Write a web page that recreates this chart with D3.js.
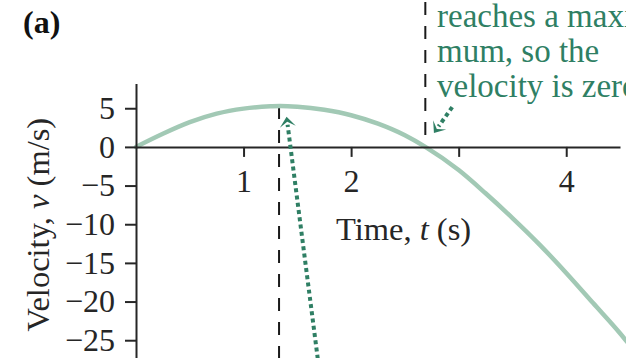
<!DOCTYPE html>
<html>
<head>
<meta charset="utf-8">
<script src="https://cdn.jsdelivr.net/npm/d3@7"></script>
<style>
  html, body { margin: 0; padding: 0; background: #fff; overflow: hidden; }
  svg { display: block; }
  text { font-family: "Liberation Serif", "Times New Roman", serif; }
</style>
</head>
<body>
<svg id="chart" width="626" height="358"></svg>
<script>
// Velocity of the ball over time (s, m/s)
const times      = [0, 0.25, 0.5, 0.75, 1.0, 1.25, 1.34, 1.5, 1.75, 2.0, 2.25, 2.5, 2.69, 3.0, 3.25, 3.5, 3.75, 4.0, 4.25, 4.5, 4.6];
const velocities = [0, 1.7, 3.2, 4.3, 4.95, 5.25, 5.3, 5.2, 4.8, 4.1, 3.0, 1.5, 0, -3.0, -6.0, -9.2, -12.6, -16.3, -20.2, -24.1, -25.8];

const xTicks = [1, 2, 3, 4];
const xTickLabels = ["1", "2", "", "4"];
const yTicks = [5, 0, -5, -10, -15, -20, -25];

// Instants marked with dashed guides: maximum height and turning point
const tPeak = 1.33;
const tZero = 2.69;

// Callout text beside the turning point
const noteLines = ["reaches a maxi-", "mum, so the", "velocity is zero."];

// Dotted pointers: [tail t, tail v, tip t, tip v]
const pointers = [
  [1.69, -27.4, 1.40, 3.9],
  [2.94, 5.15, 2.77, 1.8]
];

const svg = d3.select("#chart");
const x = d3.scaleLinear().domain([0, 4.5]).range([136, 620]);
const y = d3.scaleLinear().domain([-27.3, 8.2]).range([358, 83.5]);

const ink = "#262626";
const green = "#2f7f64";
const curveColor = "#a2c9b5";

// Dashed guides
svg.append("line")
  .attr("x1", x(tPeak)).attr("x2", x(tPeak))
  .attr("y1", y(5.3)).attr("y2", 358)
  .attr("stroke", "#1a1a1a").attr("stroke-width", 2)
  .attr("stroke-dasharray", "13,11");
svg.append("line")
  .attr("x1", x(tZero)).attr("x2", x(tZero))
  .attr("y1", 2).attr("y2", y(0))
  .attr("stroke", "#1a1a1a").attr("stroke-width", 2)
  .attr("stroke-dasharray", "13,11");

// Velocity curve
const pts = times.map((t, i) => [t, velocities[i]]);
svg.append("path")
  .datum(pts)
  .attr("fill", "none")
  .attr("stroke", curveColor)
  .attr("stroke-width", 4.5)
  .attr("stroke-linecap", "round")
  .attr("d", d3.line().x(d => x(d[0])).y(d => y(d[1])).curve(d3.curveMonotoneX));

// Y axis
const yAxis = svg.append("g")
  .attr("transform", `translate(${x(0)},0)`)
  .call(d3.axisLeft(y).tickValues(yTicks).tickSize(11).tickSizeOuter(0).tickPadding(10));
// X axis
const xAxis = svg.append("g")
  .attr("transform", `translate(0,${y(0)})`)
  .call(d3.axisBottom(x).tickValues(xTicks).tickSize(10).tickSizeOuter(0)
    .tickFormat((d, i) => xTickLabels[i]));

[yAxis, xAxis].forEach(g => {
  g.select(".domain").attr("stroke", ink).attr("stroke-width", 2);
  g.selectAll(".tick line").attr("stroke", ink).attr("stroke-width", 2);
  g.selectAll(".tick text")
    .attr("fill", ink)
    .style("font-family", '"Liberation Serif", "Times New Roman", serif')
    .style("font-size", "32px");
});
xAxis.selectAll(".tick text").attr("y", 45).attr("dy", null);

// Axis titles
const xt = svg.append("text")
  .attr("x", 336).attr("y", 240)
  .attr("fill", ink).style("font-size", "32.5px");
xt.append("tspan").text("Time, ");
xt.append("tspan").attr("font-style", "italic").text("t");
xt.append("tspan").text(" (s)");

const yt = svg.append("text")
  .attr("transform", `translate(49,${y(-10.05)}) rotate(-90)`)
  .attr("text-anchor", "middle")
  .attr("fill", ink).style("font-size", "32.5px");
yt.append("tspan").text("Velocity, ");
yt.append("tspan").attr("font-style", "italic").text("v");
yt.append("tspan").text(" (m/s)");

// Panel label
svg.append("text")
  .attr("x", 23).attr("y", 33)
  .attr("fill", "#111")
  .attr("font-weight", "bold")
  .style("font-size", "32px")
  .text("(a)");

// Callout text
svg.append("g").selectAll("text")
  .data(noteLines)
  .join("text")
  .attr("x", 437)
  .attr("y", (d, i) => 27 + i * 35)
  .attr("fill", green)
  .style("font-size", "33px")
  .text(d => d);

// Dotted pointers with chevron heads
pointers.forEach(([t0, v0, t1, v1]) => {
  const x0 = x(t0), y0 = y(v0), x1 = x(t1), y1 = y(v1);
  const dx = x1 - x0, dy = y1 - y0;
  const len = Math.hypot(dx, dy);
  const ux = dx / len, uy = dy / len;
  const px = -uy, py = ux;
  const headLen = 10, headHalf = 8, notch = 5;
  svg.append("line")
    .attr("x1", x0).attr("y1", y0)
    .attr("x2", x1 - ux * (headLen - 2)).attr("y2", y1 - uy * (headLen - 2))
    .attr("stroke", green).attr("stroke-width", 4)
    .attr("stroke-dasharray", "4,3.3");
  const bx = x1 - ux * headLen, by = y1 - uy * headLen;
  const nx = x1 - ux * notch, ny = y1 - uy * notch;
  svg.append("path")
    .attr("d", `M${x1},${y1} L${bx + px * headHalf},${by + py * headHalf} L${nx},${ny} L${bx - px * headHalf},${by - py * headHalf} Z`)
    .attr("fill", green);
});
</script>
</body>
</html>
